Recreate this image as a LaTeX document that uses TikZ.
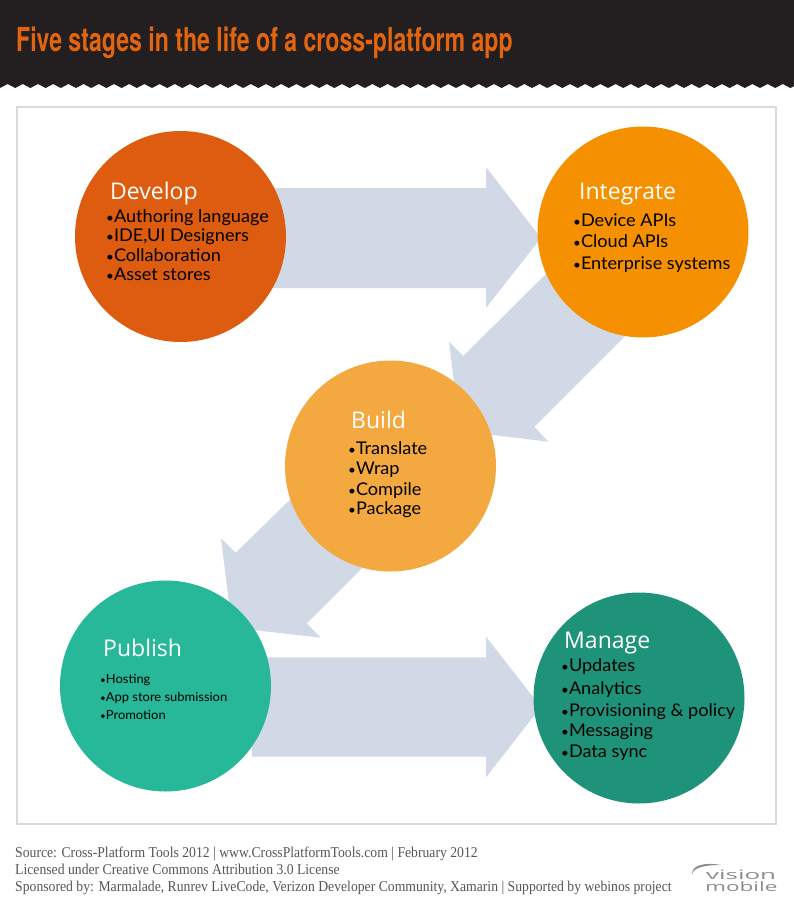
\documentclass[tikz,border=0pt]{standalone}
\usepackage{fontspec}
\newfontfamily\titlef[FakeStretch=0.70]{TeX Gyre Heros}
\newfontfamily\itemf[FakeStretch=1.035]{Lato}
\newfontfamily\headf{Open Sans}
\newfontfamily\footf[FakeStretch=0.913]{Liberation Serif}
\newfontfamily\logof{Open Sans}
\newcommand{\bul}{{\fontsize{13}{13}\selectfont•}}
\newcommand{\sbul}{{\fontsize{9.5}{10}\selectfont•}}
\definecolor{hdr}{HTML}{231F20}
\definecolor{ttl}{HTML}{E4650F}
\definecolor{frameg}{HTML}{D9DBDB}
\definecolor{arr}{HTML}{D1D9E6}
\definecolor{cdev}{HTML}{DD5C0F}
\definecolor{cint}{HTML}{F59100}
\definecolor{cbld}{HTML}{F3A93F}
\definecolor{cpub}{HTML}{27B799}
\definecolor{cman}{HTML}{1F9379}
\definecolor{foot}{HTML}{555555}
\definecolor{logog}{HTML}{8A8C8E}
\tikzset{
  stage/.style={circle,minimum size=211pt,inner sep=0pt,draw=none},
  blockarrow/.style={fill=arr,draw=none},
  head/.style={anchor=base west,inner sep=0pt,text=white,font=\headf\fontsize{23}{26}\selectfont},
  item/.style={anchor=base west,inner sep=0pt,text=black,font=\itemf\fontsize{17.5}{20}\selectfont},
  smallitem/.style={item,font=\itemf\fontsize{12.5}{15}\selectfont},
  footer/.style={anchor=base west,inner sep=0pt,text=foot,font=\footf\fontsize{15}{17}\selectfont},
  logot/.style={anchor=base west,inner sep=0pt,text=logog,font=\logof\fontsize{13}{14}\selectfont},
}
\begin{document}
\begin{tikzpicture}[x=1pt,y=-1pt]
\useasboundingbox (0,0) rectangle (794,900);
% header band with toothed lower edge
\fill[hdr] (0,0) -- (794,0) -- (794,88)
  \foreach \k in {52,...,0} { -- ({\k*15.2+7.6},84) -- ({\k*15.2},88) } -- cycle;
\node[anchor=base west,inner sep=0pt,text=ttl,font=\titlef\bfseries\fontsize{33}{36}\selectfont] (title) at (16,51) {Five stages in the life of a cross-platform app};
% frame
\draw[frameg,line width=2pt] (17,107) rectangle (776,824);
% block arrows
\fill[blockarrow] (252,188) -- (486,188) -- (486,167) -- (541,238) -- (486,308) -- (486,288) -- (252,288) -- cycle;
\fill[blockarrow] (252,657.3) -- (486,657.3) -- (486,636.7) -- (541,707) -- (486,777.3) -- (486,756.7) -- (252,756.7) -- cycle;
\fill[blockarrow] (575,245) -- (463.3,356) -- (449,341.7) -- (460,431) -- (548.3,441.7) -- (534.3,426.7) -- (654,307) -- cycle;
\fill[blockarrow] (310,480) -- (235.7,552.7) -- (221,538.3) -- (232,627.6) -- (320.7,637.7) -- (306.7,623.3) -- (380,550) -- cycle;
% circles
\node[stage,fill=cdev] (develop) at (180.5,236.5) {};
\node[stage,fill=cint] (integrate) at (643,232) {};
\node[stage,fill=cbld] (build) at (390.5,466) {};
\node[stage,fill=cpub] (publish) at (165.5,686) {};
\node[stage,fill=cman] (manage) at (639,698) {};
% Develop
\node[head] (h1) at (110,199) {Develop};
\node[item] (d1) at (106,222) {\bul Authoring language};
\node[item] (d2) at (106,241) {\bul IDE,UI Designers};
\node[item] (d3) at (106,261) {\bul Collaboration};
\node[item] (d4) at (106,280) {\bul Asset stores};
% Integrate
\node[head] (h2) at (579,199) {Integrate};
\node[item] (i1) at (573,226) {\bul Device APIs};
\node[item] (i2) at (573,247) {\bul Cloud APIs};
\node[item] (i3) at (573,269) {\bul Enterprise systems};
% Build
\node[head] (h3) at (351,428) {Build};
\node[item] (b1) at (348,454) {\bul Translate};
\node[item] (b2) at (348,474) {\bul Wrap};
\node[item] (b3) at (348,495) {\bul Compile};
\node[item] (b4) at (348,514) {\bul Package};
% Publish
\node[head] (h4) at (103,656) {Publish};
\node[smallitem] (p1) at (100,683) {\sbul Hosting};
\node[smallitem] (p2) at (100,701) {\sbul App store submission};
\node[smallitem] (p3) at (100,719) {\sbul Promotion};
% Manage
\node[head] (h5) at (564,648) {Manage};
\node[item] (m1) at (561,671) {\bul Updates};
\node[item] (m2) at (561,694) {\bul Analytics};
\node[item] (m3) at (561,716) {\bul Provisioning \& policy};
\node[item] (m4) at (561,736) {\bul Messaging};
\node[item] (m5) at (561,757) {\bul Data sync};
% footer
\node[footer] (f1) at (15,857) {Source: Cross-Platform Tools 2012 | www.CrossPlatformTools.com | February 2012};
\node[footer] (f2) at (15,874) {Licensed under Creative Commons Attribution 3.0 License};
\node[footer] (f3) at (15,891) {Sponsored by: Marmalade, Runrev LiveCode, Verizon Developer Community, Xamarin | Supported by webinos project};
% logo
\fill[logog] (721,865) .. controls (705,862) and (692,865) .. (692,874) .. controls (694,867) and (706,865) .. (721,865) -- cycle;
\node[logot] (l1) at (706,879) {\scalebox{1.99}[1]{vision}};
\node[logot] (l2) at (705,891) {\scalebox{1.73}[1]{mobile}};
\end{tikzpicture}
\end{document}
